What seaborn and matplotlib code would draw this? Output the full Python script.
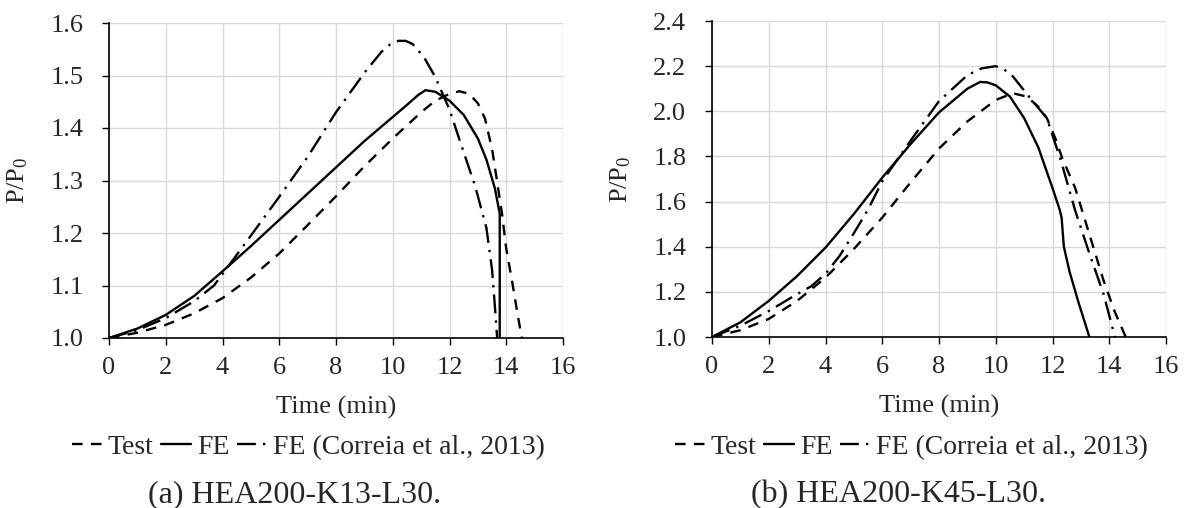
import matplotlib
matplotlib.use("Agg")
import matplotlib.pyplot as plt
import seaborn as sns
import numpy as np
import pandas as pd

sns.set_style("whitegrid")
plt.rcParams['font.family'] = ['Liberation Serif', 'DejaVu Serif']
plt.rcParams['mathtext.fontset'] = 'custom'
plt.rcParams['mathtext.rm'] = 'Liberation Serif'
plt.rcParams['mathtext.it'] = 'Liberation Serif'
FS = 19
W, H = 1193, 508

series_names = ["Test", "FE", "FE (Correia et al., 2013)"]

# (a) HEA200-K13-L30
a_test_t = [0, 1, 2, 3, 4, 5, 6, 7, 8, 9, 10, 11, 11.5, 12.0, 12.35, 12.7, 13.0,
            13.25, 13.5, 13.7, 13.85, 14.0, 14.2, 14.4, 14.55]
a_test = [1.0, 1.01, 1.025, 1.047, 1.076, 1.115, 1.161, 1.215, 1.27, 1.327, 1.38,
          1.43, 1.452, 1.465, 1.47, 1.465, 1.447, 1.418, 1.36, 1.29, 1.237, 1.17,
          1.11, 1.045, 1.0]
a_fe_t = [0, 1, 2, 3, 4, 5, 6, 7, 8, 9, 10, 10.5, 10.9, 11.15, 11.5, 12, 12.5, 13,
          13.3, 13.6, 13.77, 13.77]
a_fe = [1.0, 1.018, 1.044, 1.08, 1.127, 1.175, 1.225, 1.275, 1.325, 1.375, 1.421,
        1.444, 1.463, 1.472, 1.469, 1.452, 1.425, 1.38, 1.34, 1.285, 1.237, 1.0]
a_cor_t = [0, 1, 2, 3, 3.7, 4.25, 5, 6, 7, 8, 9, 9.6, 9.9, 10.2, 10.45, 10.7, 11.1,
           11.5, 12.0, 12.4, 12.9, 13.3, 13.5, 13.6, 13.68]
a_cor = [1.0, 1.015, 1.038, 1.07, 1.10, 1.14, 1.195, 1.269, 1.345, 1.43, 1.505,
         1.545, 1.559, 1.566, 1.566, 1.56, 1.535, 1.497, 1.435, 1.37, 1.29, 1.21,
         1.13, 1.06, 1.0]

# (b) HEA200-K45-L30
b_test_t = [0, 1, 2, 3, 4, 5, 6, 7, 8, 9, 10, 10.6, 11.1, 11.5, 11.8, 12.1, 12.35,
            12.8, 13.3, 13.8, 14.2, 14.58]
b_test = [1.0, 1.03, 1.08, 1.16, 1.263, 1.39, 1.529, 1.685, 1.835, 1.955, 2.05,
          2.08, 2.065, 2.02, 1.97, 1.88, 1.79, 1.66, 1.455, 1.25, 1.11, 1.0]
b_fe_t = [0, 1, 2, 3, 4, 5, 6, 7, 8, 9, 9.45, 9.7, 10.0, 10.5, 11.0, 11.5, 12.0,
          12.25, 12.32, 12.4, 12.6, 12.9, 13.3]
b_fe = [1.0, 1.065, 1.16, 1.27, 1.396, 1.545, 1.706, 1.855, 1.995, 2.1, 2.13,
        2.128, 2.115, 2.065, 1.97, 1.84, 1.66, 1.565, 1.53, 1.40, 1.29, 1.16, 1.0]
b_cor_t = [0, 1, 2, 3, 3.5, 4, 4.5, 5, 5.5, 6, 7, 8, 9, 9.5, 10.0, 10.3, 10.6,
           11.3, 11.8, 12.3, 12.8, 13.3, 13.8, 14.2]
b_cor = [1.0, 1.05, 1.115, 1.19, 1.225, 1.28, 1.36, 1.46, 1.565, 1.69, 1.87, 2.045,
         2.16, 2.19, 2.2, 2.185, 2.155, 2.045, 1.97, 1.78, 1.56, 1.37, 1.19, 1.0]

x_ticks = np.arange(0, 17, 2)
a_yticks = [1.0, 1.1, 1.2, 1.3, 1.4, 1.5, 1.6]
b_yticks = [1.0, 1.2, 1.4, 1.6, 1.8, 2.0, 2.2, 2.4]
captions = ["(a) HEA200-K13-L30.", "(b) HEA200-K45-L30."]

dash_map = {"Test": (4.5, 3.5), "FE": "", "FE (Correia et al., 2013)": (8, 3, 1, 3)}


def make_df(pairs):
    frames = []
    for name, (t, v) in zip(series_names, pairs):
        frames.append(pd.DataFrame({"time": t, "ratio": v, "series": name}))
    return pd.concat(frames, ignore_index=True)


fig = plt.figure(figsize=(W / 100, H / 100), dpi=100)
ax_a = fig.add_axes([109 / W, 1 - 338 / H, 454 / W, 315 / H])
ax_b = fig.add_axes([712 / W, 1 - 337 / H, 454 / W, 316 / H])

panels = [
    (ax_a, make_df([(a_test_t, a_test), (a_fe_t, a_fe), (a_cor_t, a_cor)]), a_yticks),
    (ax_b, make_df([(b_test_t, b_test), (b_fe_t, b_fe), (b_cor_t, b_cor)]), b_yticks),
]

for i, (ax, df, yt) in enumerate(panels):
    dx = 603 * i
    sns.lineplot(data=df, x="time", y="ratio", style="series", style_order=series_names,
                 dashes=dash_map, color="black", linewidth=1.7, sort=False,
                 estimator=None, ax=ax)
    ax.set_xlim(0, 16)
    ax.set_ylim(yt[0], yt[-1])
    ax.set_xticks(x_ticks)
    ax.set_yticks(yt)
    ax.set_yticklabels([f"{v:.1f}" for v in yt])
    ax.grid(True, color="#d9d9d9", linewidth=1.0)
    for s in ["top", "right"]:
        ax.spines[s].set_visible(False)
    for s in ["left", "bottom"]:
        ax.spines[s].set_color("black")
        ax.spines[s].set_linewidth(1.2)
    ax.tick_params(axis="both", direction="out", length=5, width=1, color="black",
                   labelsize=FS, bottom=True, left=True)
    ax.tick_params(axis="x", pad=9)
    ax.tick_params(axis="y", pad=13.5)
    ax.set_xlabel("Time (min)", fontsize=FS)
    ax.xaxis.set_label_coords(0.5, -0.184)
    ax.set_ylabel("P/P$_0$", fontsize=FS)
    ax.yaxis.set_label_coords(-0.174, 0.5)
    handles, labels = ax.get_legend_handles_labels()
    if ax.get_legend():
        ax.get_legend().remove()
    fig.legend(handles, labels, loc="upper left",
               bbox_to_anchor=((72 + dx) / W, (H - 434.5) / H),
               ncol=3, frameon=False, fontsize=20, handlelength=1.08,
               handletextpad=0.2, columnspacing=0.29, borderpad=0, borderaxespad=0)
    fig.text((148 + dx) / W, (H - 502) / H, captions[i], ha="left", va="baseline",
             fontsize=23)

fig.savefig("out.png", dpi=100)
